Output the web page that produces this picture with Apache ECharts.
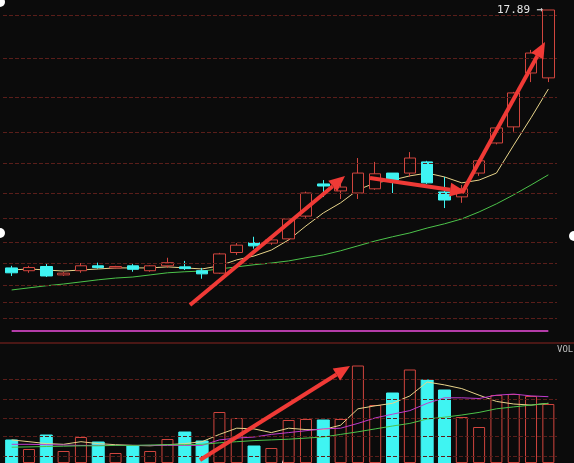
<!DOCTYPE html>
<html>
<head>
<meta charset="UTF-8">
<script src="https://cdn.jsdelivr.net/npm/echarts@6/dist/echarts.min.js"></script>
<style>html,body{margin:0;background:#0b0b0b;}</style>
</head>
<body>
<div id="main" style="width:574px;height:463px;"></div>
<script>
// candle data: [open, close, low, high]
var days = [];
for (var i = 1; i <= 32; i++) days.push('D' + i);
var candles = [
    [10.52,10.38,10.29,10.58],[10.44,10.53,10.38,10.58],[10.56,10.29,10.26,10.66],[10.32,10.37,10.29,10.40],
    [10.44,10.58,10.38,10.66],[10.58,10.53,10.50,10.67],[10.52,10.56,10.50,10.58],[10.58,10.48,10.41,10.63],
    [10.44,10.58,10.41,10.60],[10.58,10.67,10.52,10.81],[10.55,10.50,10.46,10.72],[10.44,10.35,10.21,10.52],
    [10.37,10.92,10.35,10.95],[10.96,11.17,10.89,11.23],[11.24,11.15,11.07,11.41],[11.23,11.32,11.18,11.38],
    [11.35,11.92,11.30,11.95],[12.00,12.66,11.95,12.70],[12.92,12.86,12.55,13.03],[12.72,12.83,12.49,13.03],
    [12.66,13.23,12.49,13.66],[12.78,13.21,12.75,13.55],[13.23,13.03,12.66,13.23],[13.23,13.66,13.12,13.83],
    [13.55,12.95,12.92,13.58],[12.69,12.46,12.23,13.12],[12.55,12.78,12.38,12.89],[13.23,13.58,13.15,13.62],
    [14.09,14.52,14.05,14.55],[14.55,15.52,14.41,15.55],[16.09,16.66,15.83,16.75],[15.95,17.89,15.83,17.89]
];
var ma5 = [10.46,10.49,10.46,10.43,10.46,10.49,10.52,10.52,10.52,10.55,10.52,10.49,10.58,10.75,10.86,11.03,
    11.32,11.72,12.09,12.38,12.75,12.95,13.03,13.15,13.23,13.12,12.95,13.03,13.23,14.03,14.81,15.63];
var ma30 = [9.89,9.95,10.01,10.06,10.12,10.18,10.23,10.26,10.32,10.38,10.41,10.43,10.49,10.55,10.61,10.66,
    10.72,10.81,10.89,11.01,11.15,11.29,11.41,11.52,11.66,11.78,11.92,12.12,12.35,12.61,12.89,13.18];
var priceLevels = [17.75,16.52,15.41,14.41,13.52,12.66,11.95,11.26,10.66,10.03,9.55,9.09];
var baseLine = 8.72;

var volumes = [23,14,28,12,26,21,10,17,12,24,31,22,51,45,17,15,43,44,43,44,97.5,58,70,93.5,83,73,46,36,68,69,67,59];
var volMa5 = [23.1,21.3,19.4,18.7,21.3,19.4,18.3,17.6,17.2,18.3,19.4,21.3,28.6,34.8,34.1,30.4,34.8,33.4,33.4,37.8,
    54.2,57.2,59.7,67.1,81.0,78.1,74.4,67.8,61.6,59.0,57.9,59.7];
var volMa10 = [18.7,18.7,18.3,18.0,17.6,17.6,17.6,17.6,17.6,17.6,17.6,17.6,23.1,24.9,26.0,28.6,30.4,32.3,34.1,34.8,
    39.6,45.1,48.8,52.4,59.7,65.2,65.2,64.5,67.8,68.9,67.1,66.3];
var volMa20 = [15.8,16.1,16.5,16.8,17.2,17.2,17.6,17.6,18.0,18.3,18.3,18.7,20.2,21.3,22.4,23.1,23.8,24.9,26.0,28.6,
    31.2,34.1,37.0,39.6,44.0,45.8,48.0,50.6,54.2,56.1,57.9,59.7];
var volLevels = [84,64,45,27,7];

var RED = '#d0453e', CYAN = '#3ff4f2', GRID = '#5a1e1a';

var volData = volumes.map(function (v, i) {
    var up = candles[i][1] >= candles[i][0];
    return {value: v, itemStyle: up ? {color: '#0b0b0b', borderColor: RED, borderWidth: 1} : {color: CYAN, borderColor: CYAN}};
});

function hLines(levels, color, type) {
    return {
        silent: true, symbol: 'none', label: {show: false},
        lineStyle: {color: color, type: type, width: 1},
        data: levels.map(function (v) { return {yAxis: v}; })
    };
}

var priceMarks = hLines(priceLevels, GRID, 'dashed');
priceMarks.data.push([
    {coord: [0, baseLine], lineStyle: {color: '#b43ca8', type: 'solid', width: 2}},
    {coord: [31, baseLine]}
]);

var xAx = function (g) {
    return {type: 'category', data: days, gridIndex: g, show: false, boundaryGap: true};
};

var option = {
    backgroundColor: '#0b0b0b',
    animation: false,
    grid: [
        {left: 3, right: 17, top: 3, height: 330},
        {left: 3, right: 17, top: 343, bottom: 0}
    ],
    xAxis: [xAx(0), xAx(1)],
    yAxis: [
        {gridIndex: 0, min: 8.66, max: 18.09, show: false, splitLine: {show: false}},
        {gridIndex: 1, min: 0, max: 120, show: false, splitLine: {show: false}}
    ],
    series: [
        {
            type: 'candlestick', data: candles, barWidth: 12,
            itemStyle: {color: '#0b0b0b', color0: CYAN, borderColor: RED, borderColor0: CYAN, borderWidth: 1},
            markLine: priceMarks,
            z: 3
        },
        {type: 'line', data: ma5, symbol: 'none', lineStyle: {color: '#e8d48a', width: 1}},
        {type: 'line', data: ma30, symbol: 'none', lineStyle: {color: '#4cc34a', width: 1}},
        {
            type: 'bar', xAxisIndex: 1, yAxisIndex: 1, data: volData, barWidth: 12,
            markLine: hLines(volLevels, GRID, 'dashed')
        },
        {type: 'line', xAxisIndex: 1, yAxisIndex: 1, data: volMa5, symbol: 'none', lineStyle: {color: '#e8d48a', width: 1}},
        {type: 'line', xAxisIndex: 1, yAxisIndex: 1, data: volMa10, symbol: 'none', lineStyle: {color: '#c03ccc', width: 1}},
        {type: 'line', xAxisIndex: 1, yAxisIndex: 1, data: volMa20, symbol: 'none', lineStyle: {color: '#4cc34a', width: 1}}
    ]
};

function arrow(x1, y1, x2, y2) {
    var a = Math.atan2(y2 - y1, x2 - x1), L = 16, W = 7;
    var bx = x2 - L * Math.cos(a), by = y2 - L * Math.sin(a);
    var nx = -Math.sin(a), ny = Math.cos(a);
    return [
        {type: 'line', shape: {x1: x1, y1: y1, x2: bx, y2: by}, style: {stroke: '#f03a36', lineWidth: 4}, z: 100},
        {type: 'polygon', shape: {points: [[x2, y2], [bx + nx * W, by + ny * W], [bx - nx * W, by - ny * W]]},
            style: {fill: '#f03a36'}, z: 100}
    ];
}

option.graphic = [].concat(
    arrow(190, 305, 345, 176),
    arrow(370, 178, 466, 192),
    arrow(462, 193, 545, 42),
    arrow(200, 460, 350, 366),
    [
        {type: 'line', shape: {x1: 0, y1: 343, x2: 574, y2: 343}, style: {stroke: '#8a2520', lineWidth: 1}},
        {type: 'text', left: 497, top: 5, style: {text: '17.89 →', fill: '#e8e8e8', font: '11px "DejaVu Sans Mono"'}},
        {type: 'text', left: 557, top: 345, style: {text: 'VOL', fill: '#bbbbbb', font: '9px "DejaVu Sans Mono"'}},
        {type: 'circle', shape: {cx: 0, cy: 233, r: 5}, style: {fill: '#fff'}},
        {type: 'circle', shape: {cx: 574, cy: 236, r: 5}, style: {fill: '#fff'}},
        {type: 'circle', shape: {cx: 0, cy: 2, r: 5}, style: {fill: '#fff'}},
        {type: 'circle', shape: {cx: 287, cy: 463, r: 5}, style: {fill: '#fff'}}
    ]
);

var myChart = echarts.init(document.getElementById('main'));
myChart.setOption(option);
</script>
</body>
</html>
